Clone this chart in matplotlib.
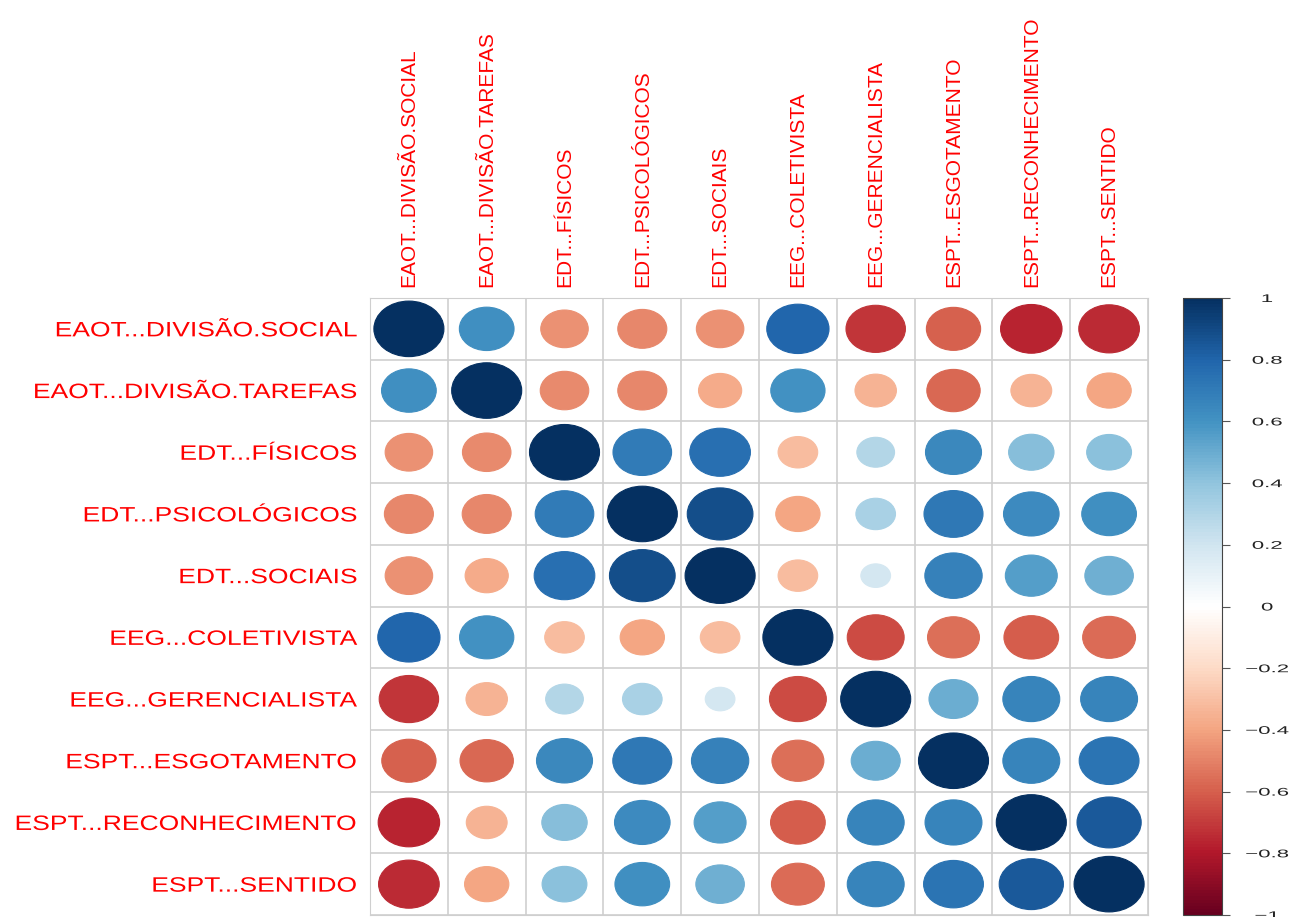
import numpy as np
import matplotlib
matplotlib.use("Agg")
import matplotlib.pyplot as plt
from matplotlib.patches import Ellipse
from matplotlib.colors import LinearSegmentedColormap, Normalize
from matplotlib.patheffects import AbstractPathEffect
from matplotlib.transforms import Affine2D

plt.rcParams['font.family'] = ['Liberation Sans', 'DejaVu Sans']

labels = ["EAOT...DIVISÃO.SOCIAL", "EAOT...DIVISÃO.TAREFAS", "EDT...FÍSICOS",
          "EDT...PSICOLÓGICOS", "EDT...SOCIAIS", "EEG...COLETIVISTA",
          "EEG...GERENCIALISTA", "ESPT...ESGOTAMENTO", "ESPT...RECONHECIMENTO",
          "ESPT...SENTIDO"]

corr = [
    [1.00, 0.61, -0.46, -0.49, -0.46, 0.79, -0.72, -0.60, -0.77, -0.75],
    [0.61, 1.00, -0.48, -0.49, -0.38, 0.60, -0.35, -0.58, -0.34, -0.40],
    [-0.46, -0.48, 1.00, 0.70, 0.75, -0.32, 0.29, 0.64, 0.42, 0.41],
    [-0.49, -0.49, 0.70, 1.00, 0.88, -0.40, 0.32, 0.71, 0.63, 0.61],
    [-0.46, -0.38, 0.75, 0.88, 1.00, -0.32, 0.18, 0.67, 0.55, 0.48],
    [0.79, 0.60, -0.32, -0.40, -0.32, 1.00, -0.66, -0.55, -0.61, -0.57],
    [-0.72, -0.35, 0.29, 0.32, 0.18, -0.66, 1.00, 0.49, 0.66, 0.66],
    [-0.60, -0.58, 0.64, 0.71, 0.67, -0.55, 0.49, 1.00, 0.66, 0.73],
    [-0.77, -0.34, 0.42, 0.63, 0.55, -0.61, 0.66, 0.66, 1.00, 0.84],
    [-0.75, -0.40, 0.41, 0.61, 0.48, -0.57, 0.66, 0.73, 0.84, 1.00],
]

cbar_ticks = [-1, -0.8, -0.6, -0.4, -0.2, 0, 0.2, 0.4, 0.6, 0.8, 1]
cbar_labels = ["\u22121", "\u22120.8", "\u22120.6", "\u22120.4", "\u22120.2", "0",
               "0.2", "0.4", "0.6", "0.8", "1"]

# corrplot's RdBu palette
col2 = ["#67001F", "#B2182B", "#D6604D", "#F4A582", "#FDDBC7", "#FFFFFF",
        "#D1E5F0", "#92C5DE", "#4393C3", "#2166AC", "#053061"]
cmap = LinearSegmentedColormap.from_list("corrRdBu", col2, N=200)
norm = Normalize(-1, 1)


class StretchX(AbstractPathEffect):
    # widen the glyphs horizontally, like the stretched original image
    def __init__(self, sx, anchor="right"):
        super().__init__()
        self.sx = sx
        self.anchor = anchor

    def draw_path(self, renderer, gc, tpath, affine, rgbFace=None):
        bb = tpath.get_extents(affine)
        x0 = bb.x1 if self.anchor == "right" else (bb.x0 + bb.x1) / 2
        t = affine + Affine2D().translate(-x0, 0).scale(self.sx, 1).translate(x0, 0)
        renderer.draw_path(gc, tpath, t, rgbFace)


fig = plt.figure(figsize=(12.91, 9.17), dpi=100)
ax = fig.add_axes([370/1291, 1 - 915/917, 778/1291, 617/917])
cax = fig.add_axes([1183/1291, 1 - 915/917, 39/1291, 617/917])

n = len(labels)
M = np.array(corr)
for i in range(n):
    for j in range(n):
        r = M[i, j]
        d = 0.9 * np.sqrt(abs(r))
        ax.add_patch(Ellipse((j + 0.5, i + 0.5), d, d, facecolor=cmap(norm(r)),
                             edgecolor=cmap(norm(r)), lw=0.8))

for k in range(n + 1):
    ax.axhline(k, color="#CFCFCF", lw=1.2, zorder=0)
    ax.axvline(k, color="#CFCFCF", lw=1.2, zorder=0)

ax.set_xlim(0, n)
ax.set_ylim(n, 0)
for s in ax.spines.values():
    s.set_color("#CFCFCF")
ax.xaxis.tick_top()
ax.set_xticks(np.arange(n) + 0.5)
ax.set_xticklabels(labels, rotation=90, color="red", fontsize=15)
ax.set_yticks(np.arange(n) + 0.5)
ax.set_yticklabels(labels, color="red", fontsize=15)
ax.tick_params(axis="x", length=0, pad=8)
ax.tick_params(axis="y", length=0, pad=9)
for t in ax.get_yticklabels():
    t.set_path_effects([StretchX(1.27, "right")])

cb = fig.colorbar(plt.cm.ScalarMappable(norm=norm, cmap=cmap), cax=cax, ticks=cbar_ticks)
cb.ax.set_yticklabels(cbar_labels)
cb.outline.set_edgecolor("#444444")
cb.outline.set_linewidth(0.8)
cax.tick_params(axis="y", length=5.5, width=0.8, color="#555555", pad=27,
                labelsize=8, labelcolor="#222222")
for t in cax.get_yticklabels():
    t.set_horizontalalignment("center")
    t.set_path_effects([StretchX(2.0, "center")])

fig.savefig("out.png", dpi=100)
